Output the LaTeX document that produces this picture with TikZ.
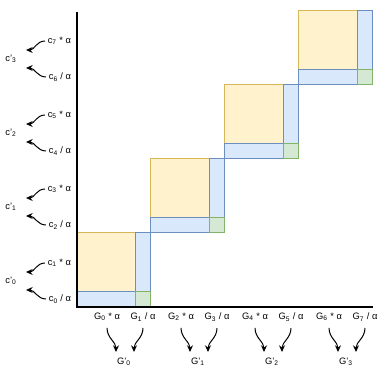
\documentclass[tikz,border=0pt]{standalone}
\usepackage{fontspec}
\setmainfont{Liberation Sans}
\usepackage{xcolor}
\definecolor{cyellow}{HTML}{FFF2CC}
\definecolor{cyellowline}{HTML}{D6B656}
\definecolor{cblue}{HTML}{DAE8FC}
\definecolor{cblueline}{HTML}{6C8EBF}
\definecolor{cgreen}{HTML}{D5E8D4}
\definecolor{cgreenline}{HTML}{82B366}
\usepackage{tikz}
\usetikzlibrary{positioning, arrows.meta}
\tikzset{
Block/.style={
	draw, outer sep=0pt, inner sep=0pt,
	line width=0.75pt
},
YellowBlock/.style={
	Block, fill=cyellow, draw=cyellowline,
	minimum width=44.5pt, minimum height=44.5pt
},
BlueRow/.style={
	Block, fill=cblue, draw=cblueline,
	minimum width=44.5pt, minimum height=11pt
},
BlueCol/.style={
	Block, fill=cblue, draw=cblueline,
	minimum width=11pt, minimum height=44.5pt
},
GreenBlock/.style={
	Block, fill=cgreen, draw=cgreenline,
	minimum width=11pt, minimum height=11pt
},
Factor/.style={
	font=\fontsize{7}{8}\selectfont,
	inner sep=2pt
},
Merged/.style={
	Factor
},
Axis/.style={
	draw=black, line width=1.5pt
},
Flow/.style={
	draw=black, line width=0.75pt,
	-{Stealth[length=5pt, width=4.5pt]}
}
}

\begin{document}
\begin{tikzpicture}[x=0.75pt, y=-0.75pt]
	\useasboundingbox (0,0) rectangle (387,375);

	% blocks on the diagonal
	\node[YellowBlock, anchor=north west] (Y0) at (76.5,232.5) {};
	\node[BlueRow, below=0pt of Y0] (R0) {};
	\node[BlueCol, right=0pt of Y0] (V0) {};
	\node[GreenBlock, right=0pt of R0] (S0) {};

	\node[YellowBlock, anchor=north west] (Y1) at (150.5,158.5) {};
	\node[BlueRow, below=0pt of Y1] (R1) {};
	\node[BlueCol, right=0pt of Y1] (V1) {};
	\node[GreenBlock, right=0pt of R1] (S1) {};

	\node[YellowBlock, anchor=north west] (Y2) at (224.5,84.5) {};
	\node[BlueRow, below=0pt of Y2] (R2) {};
	\node[BlueCol, right=0pt of Y2] (V2) {};
	\node[GreenBlock, right=0pt of R2] (S2) {};

	\node[YellowBlock, anchor=north west] (Y3) at (298.5,10.5) {};
	\node[BlueRow, below=0pt of Y3] (R3) {};
	\node[BlueCol, right=0pt of Y3] (V3) {};
	\node[GreenBlock, right=0pt of R3] (S3) {};

	% axes
	\coordinate (YTop) at (77,12);
	\coordinate (Origin) at (77,307);
	\coordinate (XEnd) at (373,307);
	\draw[Axis] (YTop) -- (Origin) -- (XEnd);

	% left side
	\node[Factor, anchor=east] (C7) at (74,41) {c\textsubscript{7} * α};
	\node[Factor, anchor=east] (C6) at (74,77) {c\textsubscript{6} / α};
	\node[Factor, anchor=east] (C5) at (74,115) {c\textsubscript{5} * α};
	\node[Factor, anchor=east] (C4) at (74,151) {c\textsubscript{4} / α};
	\node[Factor, anchor=east] (C3) at (74,189) {c\textsubscript{3} * α};
	\node[Factor, anchor=east] (C2) at (74,225) {c\textsubscript{2} / α};
	\node[Factor, anchor=east] (C1) at (74,263) {c\textsubscript{1} * α};
	\node[Factor, anchor=east] (C0) at (74,299) {c\textsubscript{0} / α};

	\node[Merged] (P3) at (11,59) {c'\textsubscript{3}};
	\node[Merged] (P2) at (11,133) {c'\textsubscript{2}};
	\node[Merged] (P1) at (11,207) {c'\textsubscript{1}};
	\node[Merged] (P0) at (11,281) {c'\textsubscript{0}};

	\coordinate (T7) at (26,50);
	\coordinate (T6) at (26,68);
	\coordinate (T5) at (26,124);
	\coordinate (T4) at (26,142);
	\coordinate (T3) at (26,198);
	\coordinate (T2) at (26,216);
	\coordinate (T1) at (26,272);
	\coordinate (T0) at (26,290);

	\draw[Flow] (C7.west) to[out=180, in=0] (T7);
	\draw[Flow] (C6.west) to[out=180, in=0] (T6);
	\draw[Flow] (C5.west) to[out=180, in=0] (T5);
	\draw[Flow] (C4.west) to[out=180, in=0] (T4);
	\draw[Flow] (C3.west) to[out=180, in=0] (T3);
	\draw[Flow] (C2.west) to[out=180, in=0] (T2);
	\draw[Flow] (C1.west) to[out=180, in=0] (T1);
	\draw[Flow] (C0.west) to[out=180, in=0] (T0);

	% bottom side
	\node[Factor] (G0) at (107,317) {G\textsubscript{0} * α};
	\node[Factor] (G1) at (143,317) {G\textsubscript{1} / α};
	\node[Factor] (G2) at (181,317) {G\textsubscript{2} * α};
	\node[Factor] (G3) at (217,317) {G\textsubscript{3} / α};
	\node[Factor] (G4) at (255,317) {G\textsubscript{4} * α};
	\node[Factor] (G5) at (291,317) {G\textsubscript{5} / α};
	\node[Factor] (G6) at (329,317) {G\textsubscript{6} * α};
	\node[Factor] (G7) at (365,317) {G\textsubscript{7} / α};

	\node[Merged] (H0) at (124,362) {G'\textsubscript{0}};
	\node[Merged] (H1) at (198,362) {G'\textsubscript{1}};
	\node[Merged] (H2) at (272,362) {G'\textsubscript{2}};
	\node[Merged] (H3) at (346,362) {G'\textsubscript{3}};

	\coordinate (U0) at (116,352);
	\coordinate (U1) at (134,352);
	\coordinate (U2) at (190,352);
	\coordinate (U3) at (208,352);
	\coordinate (U4) at (264,352);
	\coordinate (U5) at (282,352);
	\coordinate (U6) at (338,352);
	\coordinate (U7) at (356,352);

	\draw[Flow] ([yshift=-3pt]G0.south) to[out=-90, in=90] (U0);
	\draw[Flow] ([yshift=-3pt]G1.south) to[out=-90, in=90] (U1);
	\draw[Flow] ([yshift=-3pt]G2.south) to[out=-90, in=90] (U2);
	\draw[Flow] ([yshift=-3pt]G3.south) to[out=-90, in=90] (U3);
	\draw[Flow] ([yshift=-3pt]G4.south) to[out=-90, in=90] (U4);
	\draw[Flow] ([yshift=-3pt]G5.south) to[out=-90, in=90] (U5);
	\draw[Flow] ([yshift=-3pt]G6.south) to[out=-90, in=90] (U6);
	\draw[Flow] ([yshift=-3pt]G7.south) to[out=-90, in=90] (U7);
\end{tikzpicture}
\end{document}
